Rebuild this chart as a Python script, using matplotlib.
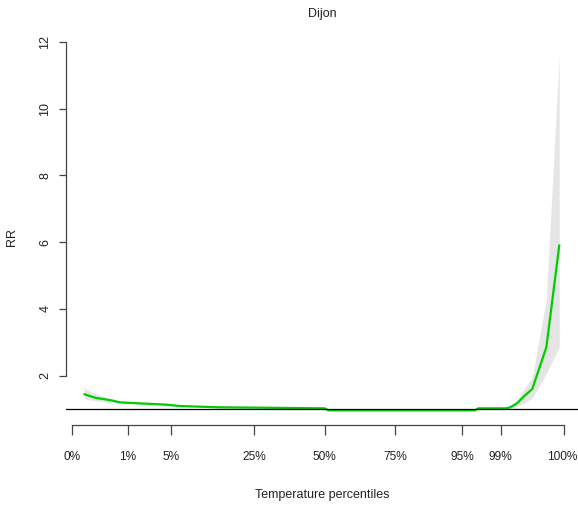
import matplotlib.pyplot as plt
from matplotlib.transforms import ScaledTranslation

plt.rcParams['font.family'] = ['Liberation Sans', 'DejaVu Sans']

# exposure-response for Dijon (temperature in degC, relative risk with 95% CI)
temp = [-10.9, -9.9, -9.3, -8.5, -7.9, -6.3, -3.9, -2.8, 0.7, 4.1, 9.6, 9.9,
        16.0, 22.4, 22.7, 25.1, 25.4, 26.0, 26.5, 27.3, 28.5, 29.6]
rr = [1.44, 1.33, 1.30, 1.25, 1.20, 1.17, 1.13, 1.09, 1.05, 1.04, 1.02, 0.96,
      0.96, 0.96, 1.02, 1.02, 1.05, 1.17, 1.35, 1.60, 2.85, 5.90]
rr_low = [1.30, 1.24, 1.23, 1.21, 1.18, 1.15, 1.11, 1.07, 1.04, 1.03, 1.01, 0.95,
          0.95, 0.95, 1.01, 1.00, 1.01, 1.08, 1.16, 1.32, 2.07, 2.85]
rr_high = [1.62, 1.44, 1.38, 1.30, 1.23, 1.19, 1.15, 1.11, 1.06, 1.05, 1.03, 0.97,
           0.97, 0.97, 1.03, 1.04, 1.09, 1.27, 1.55, 1.95, 4.30, 11.60]

# temperature at each percentile
pct_labels = ['0%', '1%', '5%', '25%', '50%', '75%', '95%', '99%', '100%']
pct_temp = [-12.0, -7.2, -3.5, 3.6, 9.6, 15.6, 21.3, 24.6, 30.0]

fig = plt.figure(figsize=(5.78, 5.07), dpi=100)
ax = fig.add_axes([0.1137, 0.1617, 0.8863, 0.7574])

ax.fill_between(temp, rr_low, rr_high, color='#E5E5E5', lw=0)
ax.plot(temp, rr, color='#00CD00', lw=1.6)
ax.axhline(1, color='black', lw=0.9)

ax.set_xlim(-12.5, 31.2)
ax.set_ylim(0.52, 12.03)

for s in ['top', 'right']:
    ax.spines[s].set_visible(False)
ax.spines['left'].set_bounds(2, 12)
ax.spines['bottom'].set_bounds(pct_temp[0], pct_temp[-1])
for s in ['left', 'bottom']:
    ax.spines[s].set_color('#444444')
    ax.spines[s].set_linewidth(0.9)

ax.set_yticks([2, 4, 6, 8, 10, 12])
ax.set_xticks(pct_temp)
ax.set_xticklabels(pct_labels)
ax.tick_params(axis='y', length=5.3, width=0.9, color='#444444', pad=5,
               labelsize=9, labelcolor='#222222', labelrotation=90)
ax.tick_params(axis='x', length=7.2, width=0.9, color='#444444', pad=11.5,
               labelsize=8.6, labelcolor='#222222')
for lab in ax.get_yticklabels():
    lab.set_va('center')
# last label sits flush with the right edge
last = ax.get_xticklabels()[-1]
last.set_ha('right')
last.set_transform(last.get_transform() + ScaledTranslation(0.13, 0, fig.dpi_scale_trans))

ax.set_title('Dijon', fontsize=9, color='#222222', pad=17)
ax.set_xlabel('Temperature percentiles', fontsize=9, color='#222222')
ax.xaxis.set_label_coords(0.5, -0.167)
ax.xaxis.label.set_va('top')
ax.set_ylabel('RR', fontsize=9, color='#222222')
ax.yaxis.set_label_coords(-0.105, 0.49)
ax.yaxis.label.set_va('center')

fig.savefig('out.png', dpi=100)
